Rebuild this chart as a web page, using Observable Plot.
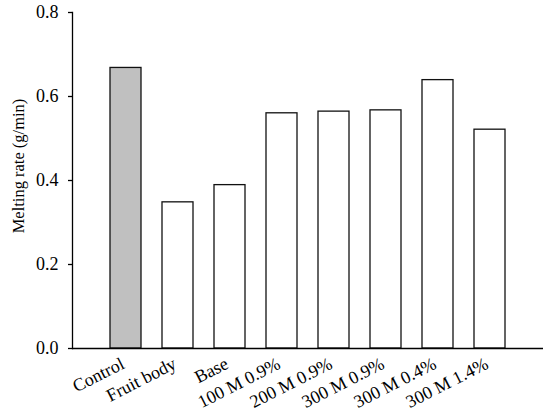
<!DOCTYPE html>
<html>
<head>
<meta charset="utf-8">
<script src="https://cdn.jsdelivr.net/npm/d3@7"></script>
<script src="https://cdn.jsdelivr.net/npm/@observablehq/plot@0.6"></script>
<style>
  html, body { margin: 0; padding: 0; background: #fff; }
  #chart svg { display: block; }
</style>
</head>
<body>
<div id="chart"></div>
<script>
const categories = ["Control", "Fruit body", "Base", "100 M 0.9%", "200 M 0.9%", "300 M 0.9%", "300 M 0.4%", "300 M 1.4%"];
const meltingRate = [0.668, 0.348, 0.389, 0.560, 0.564, 0.567, 0.639, 0.521];
const barFills = ["#c0c0c0", "#ffffff", "#ffffff", "#ffffff", "#ffffff", "#ffffff", "#ffffff", "#ffffff"];
const yTicks = [0, 0.2, 0.4, 0.6, 0.8];
const yLabel = "Melting rate (g/min)";

const data = categories.map((c, i) => ({category: c, value: meltingRate[i], fill: barFills[i]}));

const chart = Plot.plot({
  width: 550,
  height: 413,
  marginLeft: 72,
  marginRight: 7,
  marginTop: 12,
  marginBottom: 65,
  style: {fontFamily: "'Liberation Serif', 'Times New Roman', serif", fontSize: "18px", color: "#000", background: "#fff"},
  x: {domain: categories, paddingInner: 0.4, paddingOuter: 0.7},
  y: {domain: [0, 0.8]},
  marks: [
    Plot.barY(data, {x: "category", y: "value", fill: "fill", stroke: "#111", strokeWidth: 1.3}),
    Plot.axisY({ticks: yTicks, tickFormat: d3.format(".1f"), tickSize: 4, tickPadding: 10, label: null, stroke: "#000", strokeWidth: 1.3, fontSize: 18}),
    Plot.frame({anchor: "left", stroke: "#000", strokeWidth: 1.3}),
    Plot.axisX({tickSize: 0, tickPadding: 14, tickRotate: -27, dx: -3, label: null, fontSize: 18}),
    Plot.ruleY([0], {stroke: "#000", strokeWidth: 1.3}),
    Plot.text([yLabel], {frameAnchor: "left", textAnchor: "middle", dx: -53.5, dy: -14.5, rotate: -90, fontSize: 16.5, fill: "#000"})
  ]
});
document.getElementById("chart").appendChild(chart);
</script>
</body>
</html>
